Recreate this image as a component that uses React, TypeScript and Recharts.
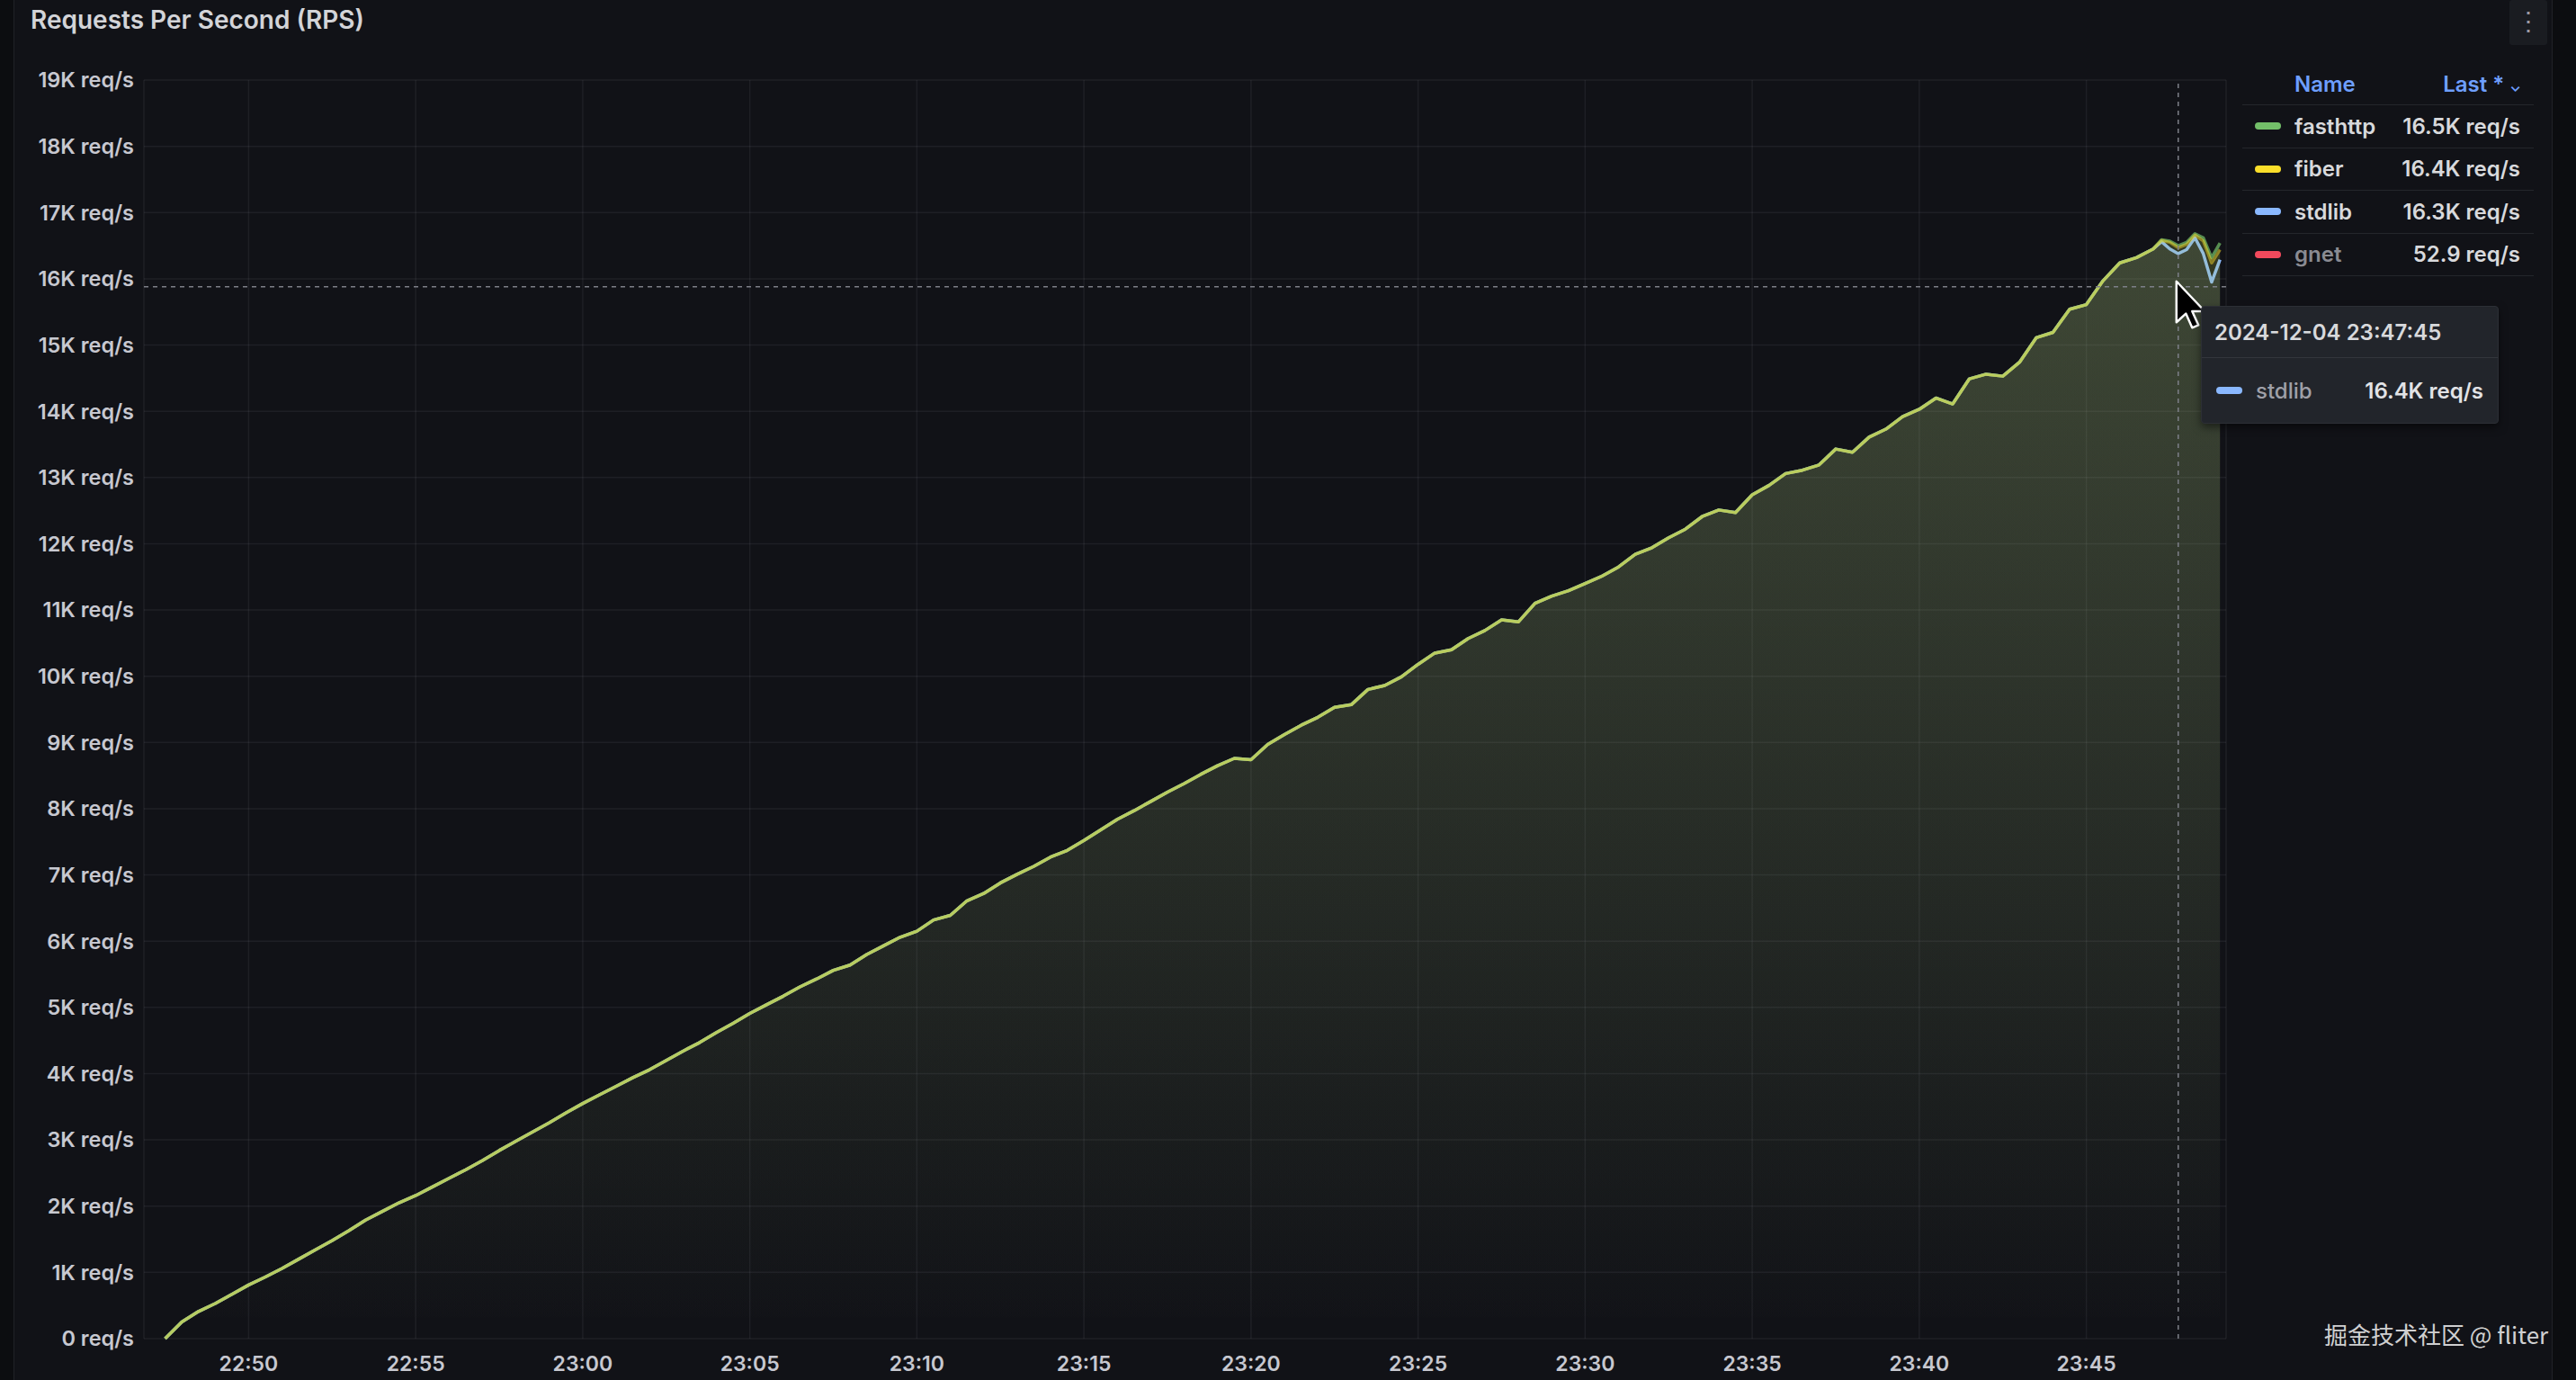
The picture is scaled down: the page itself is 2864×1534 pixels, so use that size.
import React from 'react';
import { ComposedChart, Area, XAxis, YAxis, CartesianGrid, Tooltip, ReferenceLine, ReferenceDot } from 'recharts';

// 30s samples, 22:47:30 -> 23:47:00 (all three series sit on top of each other here)
const TIMES = [
  '22:47:30', '22:48:00', '22:48:30', '22:49:00', '22:49:30', '22:50:00', '22:50:30', '22:51:00', '22:51:30', '22:52:00',
  '22:52:30', '22:53:00', '22:53:30', '22:54:00', '22:54:30', '22:55:00', '22:55:30', '22:56:00', '22:56:30', '22:57:00',
  '22:57:30', '22:58:00', '22:58:30', '22:59:00', '22:59:30', '23:00:00', '23:00:30', '23:01:00', '23:01:30', '23:02:00',
  '23:02:30', '23:03:00', '23:03:30', '23:04:00', '23:04:30', '23:05:00', '23:05:30', '23:06:00', '23:06:30', '23:07:00',
  '23:07:30', '23:08:00', '23:08:30', '23:09:00', '23:09:30', '23:10:00', '23:10:30', '23:11:00', '23:11:30', '23:12:00',
  '23:12:30', '23:13:00', '23:13:30', '23:14:00', '23:14:30', '23:15:00', '23:15:30', '23:16:00', '23:16:30', '23:17:00',
  '23:17:30', '23:18:00', '23:18:30', '23:19:00', '23:19:30', '23:20:00', '23:20:30', '23:21:00', '23:21:30', '23:22:00',
  '23:22:30', '23:23:00', '23:23:30', '23:24:00', '23:24:30', '23:25:00', '23:25:30', '23:26:00', '23:26:30', '23:27:00',
  '23:27:30', '23:28:00', '23:28:30', '23:29:00', '23:29:30', '23:30:00', '23:30:30', '23:31:00', '23:31:30', '23:32:00',
  '23:32:30', '23:33:00', '23:33:30', '23:34:00', '23:34:30', '23:35:00', '23:35:30', '23:36:00', '23:36:30', '23:37:00',
  '23:37:30', '23:38:00', '23:38:30', '23:39:00', '23:39:30', '23:40:00', '23:40:30', '23:41:00', '23:41:30', '23:42:00',
  '23:42:30', '23:43:00', '23:43:30', '23:44:00', '23:44:30', '23:45:00', '23:45:30', '23:46:00', '23:46:30', '23:47:00',
];

const RAMP_RPS = [
  0, 250, 410, 530, 670, 810, 930, 1060, 1200, 1340,
  1480, 1630, 1790, 1920, 2050, 2160, 2290, 2420, 2550, 2690,
  2840, 2980, 3120, 3260, 3410, 3550, 3680, 3810, 3940, 4060,
  4200, 4340, 4470, 4620, 4760, 4910, 5040, 5170, 5310, 5430,
  5560, 5640, 5800, 5930, 6060, 6150, 6320, 6390, 6610, 6720,
  6880, 7010, 7130, 7270, 7370, 7520, 7680, 7840, 7970, 8110,
  8250, 8380, 8520, 8650, 8760, 8740, 8970, 9120, 9260, 9380,
  9530, 9570, 9800, 9860, 9990, 10180, 10350, 10400, 10570, 10690,
  10850, 10820, 11100, 11210, 11290, 11400, 11510, 11650, 11840, 11940,
  12090, 12220, 12410, 12510, 12470, 12740, 12880, 13060, 13110, 13190,
  13430, 13380, 13610, 13730, 13920, 14030, 14200, 14110, 14490, 14560,
  14530, 14740, 15110, 15190, 15540, 15610, 15970, 16240, 16320, 16450,
];

// last two minutes, 15s samples, where the series split apart
const TAIL_TIMES = ['23:47:15', '23:47:30', '23:47:45', '23:48:00', '23:48:15', '23:48:30', '23:48:45', '23:49:00'];
const FASTHTTP_TAIL = [16590, 16570, 16500, 16550, 16680, 16620, 16320, 16540];
const FIBER_TAIL = [16580, 16550, 16470, 16520, 16660, 16570, 16240, 16440];
const STDLIB_TAIL = [16560, 16450, 16380, 16440, 16620, 16380, 15950, 16290];
const GNET_LAST = 52.9;

const X_TICKS = ['22:50', '22:55', '23:00', '23:05', '23:10', '23:15', '23:20', '23:25', '23:30', '23:35', '23:40', '23:45'];
const Y_TICKS = [0, 1000, 2000, 3000, 4000, 5000, 6000, 7000, 8000, 9000, 10000, 11000, 12000, 13000, 14000, 15000, 16000, 17000, 18000, 19000];
const X_RANGE = ['22:46:52', '23:49:11'];

const CURSOR_TIME = '23:47:45';
const CURSOR_RPS = 15880;
const DATE_LABEL = '2024-12-04';

const SERIES = [
  { key: 'fasthttp', color: '#73BF69', tail: FASTHTTP_TAIL },
  { key: 'fiber', color: '#FADE2A', tail: FIBER_TAIL },
  { key: 'stdlib', color: '#8AB8FF', tail: STDLIB_TAIL },
];
// drawing order, last one ends up on top
const DRAW_ORDER = ['stdlib', 'fasthttp', 'fiber'];

const FONT = 'Inter, "Noto Sans", sans-serif';
const BG = '#111217';

const toSec = (s: string) => {
  const [h, m, sec = '0'] = s.split(':');
  return Number(h) * 3600 + Number(m) * 60 + Number(sec);
};
const hhmm = (v: number) => {
  const h = Math.floor(v / 3600);
  const m = Math.floor((v % 3600) / 60);
  return `${String(h).padStart(2, '0')}:${String(m).padStart(2, '0')}`;
};
const fmtRps = (v: number) => {
  if (v === 0) return '0 req/s';
  if (v >= 1000) return `${Number((v / 1000).toFixed(1))}K req/s`;
  return `${v} req/s`;
};

const ALL_TIMES = [...TIMES, ...TAIL_TIMES];
const data = ALL_TIMES.map((t, i) => {
  const row: any = { t: toSec(t), label: t };
  SERIES.forEach((s) => {
    row[s.key] = i < RAMP_RPS.length ? RAMP_RPS[i] : s.tail[i - RAMP_RPS.length];
  });
  return row;
});
const CURSOR_INDEX = ALL_TIMES.indexOf(CURSOR_TIME);

const LEGEND_ROWS = [
  ...SERIES.map((s) => ({ name: s.key, color: s.color, last: s.tail[s.tail.length - 1], hidden: false })),
  { name: 'gnet', color: '#F2495C', last: GNET_LAST, hidden: true },
];

const Swatch = ({ color }: { color: string }) => (
  <span style={{ display: 'inline-block', width: 29, height: 8, borderRadius: 4, background: color }} />
);

const TooltipBox = ({ active, payload, label }: any) => {
  if (!active || !payload || !payload.length) return null;
  const item = payload.find((p: any) => p.dataKey === 'stdlib');
  if (!item) return null;
  return (
    <div style={{
      width: 329, background: '#22252b', border: '1px solid #2c2f35', borderRadius: 4,
      boxShadow: '0 4px 10px rgba(0,0,0,0.5)', fontFamily: FONT, color: '#d8d9dc',
    }}>
      <div style={{ height: 56, lineHeight: '58px', padding: '0 14px', fontSize: 24, fontWeight: 600, borderBottom: '1px solid #33363c' }}>
        {DATE_LABEL} {ALL_TIMES[data.findIndex((d) => d.t === label)]}
      </div>
      <div style={{ height: 72, display: 'flex', alignItems: 'center', padding: '0 16px 0 16px', fontSize: 24 }}>
        <Swatch color={item.color} />
        <span style={{ marginLeft: 15, color: '#9fa0a8', fontWeight: 500 }}>stdlib</span>
        <span style={{ marginLeft: 'auto', fontWeight: 600, color: '#e2e3e6' }}>{fmtRps(item.value)}</span>
      </div>
    </div>
  );
};

const Pointer = (props: any) => {
  const { cx, cy } = props;
  return (
    <path
      transform={`translate(${cx - 2},${cy - 6}) scale(1.75)`}
      d="M0 0 L0 26 L6 20.5 L10 29.5 L14 27.8 L10 19 L18 19 Z"
      fill="#000"
      stroke="#fff"
      strokeWidth={1.4}
      strokeLinejoin="round"
    />
  );
};

const Legend = () => (
  <div style={{ position: 'absolute', left: 2493, top: 70, width: 324, fontFamily: FONT, fontSize: 24 }}>
    <div style={{ height: 46, display: 'flex', alignItems: 'center', borderBottom: '1px solid #24262b', color: '#6e9fff', fontWeight: 600 }}>
      <span style={{ marginLeft: 58 }}>Name</span>
      <span style={{ marginLeft: 'auto', marginRight: 14 }}>Last * <span style={{ fontSize: 16 }}>⌄</span></span>
    </div>
    {LEGEND_ROWS.map((r) => (
      <div key={r.name} style={{ height: 46.5, display: 'flex', alignItems: 'center', borderBottom: '1px solid #24262b' }}>
        <span style={{ marginLeft: 14, display: 'flex' }}><Swatch color={r.color} /></span>
        <span style={{ marginLeft: 15, color: r.hidden ? '#8a8b92' : '#d8d9dc', fontWeight: 600 }}>{r.name}</span>
        <span style={{ marginLeft: 'auto', marginRight: 15, color: '#d8d9dc', fontWeight: 600 }}>{fmtRps(r.last)}</span>
      </div>
    ))}
  </div>
);

export default function App() {
  return (
    <div style={{ position: 'absolute', left: 0, top: 0, width: 2864, height: 1534, background: '#0c0d10', overflow: 'hidden' }}>
      <div style={{ position: 'absolute', left: 15, top: -2, width: 2821, height: 1540, background: BG, borderLeft: '1px solid #202227', borderRight: '1px solid #202227' }} />
      <div style={{ position: 'absolute', left: 34, top: 5, fontFamily: FONT, fontSize: 28, fontWeight: 600, color: '#d3d4d8' }}>
        Requests Per Second (RPS)
      </div>
      <div style={{ position: 'absolute', left: 2790, top: 0, width: 42, height: 50, background: '#1a1c21', borderRadius: 3, color: '#9a9ba2', fontSize: 28, textAlign: 'center', lineHeight: '46px', fontFamily: FONT }}>
        ⋮
      </div>
      <div style={{ position: 'absolute', left: 0, top: 0 }}>
        <ComposedChart width={2864} height={1534} data={data} margin={{ top: 89, right: 389, bottom: 0, left: 0 }}>
          <defs>
            {SERIES.map((s) => (
              <linearGradient key={s.key} id={`fill-${s.key}`} x1="0" y1="0" x2="0" y2="1">
                <stop offset="0%" stopColor={s.color} stopOpacity={0.11} />
                <stop offset="100%" stopColor={s.color} stopOpacity={0} />
              </linearGradient>
            ))}
          </defs>
          <CartesianGrid stroke="rgba(204,204,220,0.075)" strokeWidth={1.5} />
          <XAxis
            dataKey="t"
            type="number"
            domain={X_RANGE.map(toSec)}
            ticks={X_TICKS.map(toSec)}
            tickFormatter={hhmm}
            axisLine={false}
            tickLine={false}
            tickSize={0}
            tickMargin={20}
            height={46}
            tick={{ fill: '#c7c8d0', fontSize: 23, fontWeight: 600, fontFamily: FONT }}
            allowDataOverflow
          />
          <YAxis
            type="number"
            domain={[0, 19000]}
            ticks={Y_TICKS}
            interval={0}
            tickFormatter={fmtRps}
            axisLine={false}
            tickLine={false}
            tickSize={0}
            tickMargin={11}
            width={160}
            tick={{ fill: '#c7c8d0', fontSize: 23.5, fontWeight: 600, fontFamily: FONT }}
          />
          {DRAW_ORDER.map((key) => {
            const s = SERIES.find((x) => x.key === key)!;
            return (
              <Area
                key={s.key}
                type="linear"
                dataKey={s.key}
                name={s.key}
                stroke={s.color}
                strokeWidth={3.5}
                strokeOpacity={s.key === 'stdlib' ? 1 : s.key === 'fiber' ? 0.48 : 0.7}
                strokeLinejoin="round"
                fill={`url(#fill-${s.key})`}
                fillOpacity={1}
                dot={false}
                activeDot={false}
                isAnimationActive={false}
              />
            );
          })}
          <ReferenceLine y={CURSOR_RPS} stroke="#7d7f88" strokeDasharray="5 5" strokeWidth={1.5} />
          <ReferenceLine x={toSec(CURSOR_TIME)} stroke="#7d7f88" strokeDasharray="5 5" strokeWidth={1.5} />
          <ReferenceDot x={toSec(CURSOR_TIME)} y={CURSOR_RPS} r={1} ifOverflow="visible" shape={Pointer} />
          <Tooltip
            active
            defaultIndex={CURSOR_INDEX}
            cursor={false}
            content={<TooltipBox />}
            position={{ x: 2447, y: 340 }}
            allowEscapeViewBox={{ x: true, y: true }}
            isAnimationActive={false}
            wrapperStyle={{ outline: 'none' }}
          />
        </ComposedChart>
      </div>
      <Legend />
      <div style={{ position: 'absolute', left: 2584, top: 1464, fontFamily: '"Noto Sans CJK SC", "Noto Sans", sans-serif', fontSize: 26, color: 'rgba(235,235,235,0.9)' }}>
        掘金技术社区 @ fliter
      </div>
    </div>
  );
}
